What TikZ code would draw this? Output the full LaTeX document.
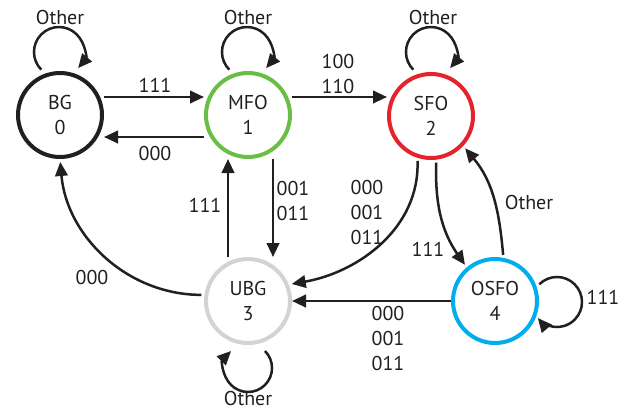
\documentclass[tikz,border=0pt]{standalone}
\usepackage{fontspec}
\setmainfont{PT Sans}
\usetikzlibrary{arrows.meta,calc}
\definecolor{ink}{HTML}{231F20}
\definecolor{stgreen}{HTML}{6BBE45}
\definecolor{stred}{HTML}{E5232A}
\definecolor{stgray}{HTML}{D1D3D4}
\definecolor{stcyan}{HTML}{00AEEF}
\begin{document}
\begin{tikzpicture}[x=1pt,y=1pt,
  state/.style={circle,draw,line width=4pt,minimum size=84pt,inner sep=0pt,
    align=center,font=\fontsize{20}{25}\selectfont,text=ink},
  arr/.style={line width=2.5pt,draw=ink,-{Triangle[length=14pt,width=12.5pt]}},
  gap/.style={shorten <=3pt,shorten >=3pt},
  lbl/.style={font=\fontsize{20}{25}\selectfont,text=ink,inner sep=0pt,align=center},
]
\useasboundingbox (0,0) rectangle (621,-410);

% states
\node[state,draw=ink]      (bg)   at (60,-115)  {BG\\0};
\node[state,draw=stgreen]  (mfo)  at (248,-115) {MFO\\1};
\node[state,draw=stred]    (sfo)  at (431,-116) {SFO\\2};
\node[state,draw=stgray]   (ubg)  at (248,-301) {UBG\\3};
\node[state,draw=stcyan]   (osfo) at (495,-301) {OSFO\\4};

% self loops
\draw[arr] ($(bg.center)+(-18.7,45.3)$) arc[start angle=225,end angle=-40,radius=25];
\draw[arr] ($(mfo.center)+(-18.7,45.3)$) arc[start angle=225,end angle=-40,radius=25];
\draw[arr] ($(sfo.center)+(-17.7,46.3)$) arc[start angle=225,end angle=-40,radius=25];
\draw[arr] ($(ubg.center)+(17,-50)$) arc[start angle=45,end angle=-225,radius=24];
\draw[arr] ($(osfo.center)+(44.3,16.7)$) arc[start angle=135,end angle=-140,radius=25];
\node[lbl] (l-bg)   at (60,-17)  {Other};
\node[lbl] (l-mfo)  at (248,-17) {Other};
\node[lbl] (l-sfo)  at (433,-17) {Other};
\node[lbl] (l-ubg)  at (248,-398) {Other};
\node[lbl] (l-osfo) at (603,-297) {111};

% straight transitions
\draw[arr] ([yshift=18pt]bg.east) -- ([yshift=18pt]mfo.west);
\draw[arr] ([yshift=-22pt]mfo.west) -- ([yshift=-22pt]bg.east);
\draw[arr] ([yshift=18pt]mfo.east) -- ([yshift=18pt]mfo.east -| sfo.west);
\draw[arr] ([xshift=25pt]mfo.south) -- ([xshift=25pt]ubg.north);
\draw[arr] ([xshift=-20pt]ubg.north) -- ([xshift=-20pt]mfo.south);
\draw[arr] (osfo.west) -- (osfo.west -| ubg.east);

% curved transitions
\draw[arr,gap] (ubg.172) to[out=180,in=-85] (bg.south);
\draw[arr,gap] (sfo.252) to[out=-88,in=10] (ubg.22);
\draw[arr,gap] (sfo.277) to[out=-92,in=125] (osfo.130);
\draw[arr,gap] (osfo.79) to[out=95,in=-50] (sfo.-43);

% transition labels
\node[lbl] (t1)  at (155,-85)  {111};
\node[lbl] (t2)  at (155,-153) {000};
\node[lbl] (t3)  at (338,-74)  {100\\110};
\node[lbl] (t4)  at (293,-201) {001\\011};
\node[lbl] (t5)  at (205,-205) {111};
\node[lbl] (t6)  at (92,-277)  {000};
\node[lbl] (t7)  at (367,-212) {000\\001\\011};
\node[lbl] (t8)  at (428,-249) {111};
\node[lbl] (t9)  at (529,-202) {Other};
\node[lbl] (t10) at (388,-338) {000\\001\\011};
\end{tikzpicture}
\end{document}
